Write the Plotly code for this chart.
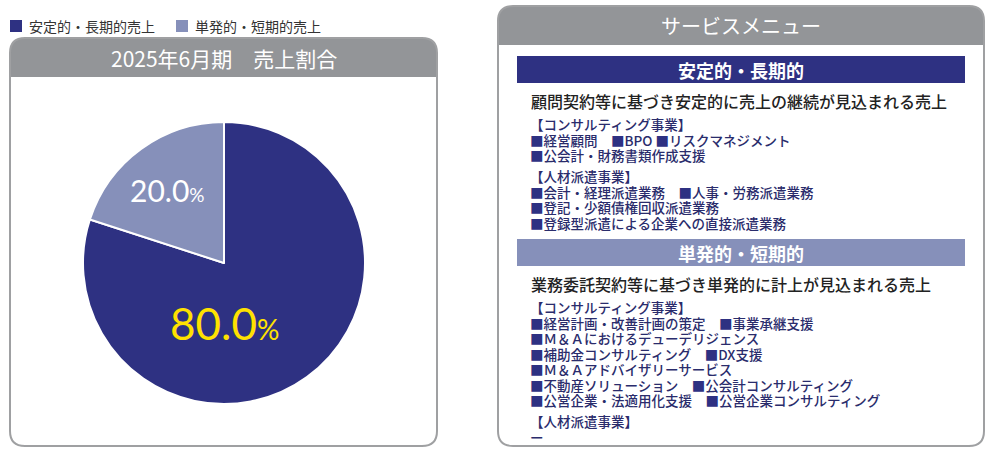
import plotly.graph_objects as go

# --- data ---
labels = ["安定的・長期的売上", "単発的・短期的売上"]
shares = [80.0, 20.0]
colors = ["#2E3182", "#8690BA"]
pie_title = "2025年6月期　売上割合"

menu_title = "サービスメニュー"
stable_head = "安定的・長期的"
stable_desc = "顧問契約等に基づき安定的に売上の継続が見込まれる売上"
stable_groups = [
    ["【コンサルティング事業】", "■経営顧問　■BPO ■リスクマネジメント", "■公会計・財務書類作成支援"],
    ["【人材派遣事業】", "■会計・経理派遣業務　■人事・労務派遣業務",
     "■登記・少額債権回収派遣業務", "■登録型派遣による企業への直接派遣業務"],
]
spot_head = "単発的・短期的"
spot_desc = "業務委託契約等に基づき単発的に計上が見込まれる売上"
spot_groups = [
    ["【コンサルティング事業】", "■経営計画・改善計画の策定　■事業承継支援",
     "■Ｍ＆Ａにおけるデューデリジェンス", "■補助金コンサルティング　■DX支援",
     "■Ｍ＆Ａアドバイザリーサービス", "■不動産ソリューション　■公会計コンサルティング",
     "■公営企業・法適用化支援　■公営企業コンサルティング"],
    ["【人材派遣事業】", "ー"],
]

W, H = 992, 459
JP = "Noto Sans CJK JP"
GRAY = "#939598"
BORDER = "#9FA0A2"
NAVY_TXT = "#2A2C6C"


def rounded_box(x0, y0, x1, y1, r):
    return (f"M {x0+r},{y0} L {x1-r},{y0} Q {x1},{y0} {x1},{y0+r} "
            f"L {x1},{y1-r} Q {x1},{y1} {x1-r},{y1} L {x0+r},{y1} "
            f"Q {x0},{y1} {x0},{y1-r} L {x0},{y0+r} Q {x0},{y0} {x0+r},{y0} Z")


def header_shape(x0, y0, x1, y1, r):
    return (f"M {x0},{y1} L {x0},{y0+r} Q {x0},{y0} {x0+r},{y0} "
            f"L {x1-r},{y0} Q {x1},{y0} {x1},{y0+r} L {x1},{y1} Z")


fig = go.Figure()

# pie centred at (224, 263), radius ~140
cx, cy, rad = 224, 263, 141
fig.add_trace(go.Pie(
    labels=labels, values=shares, sort=False, direction="clockwise", rotation=0,
    marker=dict(colors=colors, line=dict(color="white", width=2)),
    textinfo="none", hoverinfo="label+percent", showlegend=False,
    domain=dict(x=[(cx-rad)/W, (cx+rad)/W], y=[1-(cy+rad)/H, 1-(cy-rad)/H]),
))

shapes = []
ann = []

# left panel
shapes.append(dict(type="path", path=header_shape(10, 38, 437, 77, 15),
                   fillcolor=GRAY, line=dict(width=0), layer="below"))
shapes.append(dict(type="path", path=rounded_box(10, 38, 437, 446, 15),
                   line=dict(color=BORDER, width=2), layer="above"))
ann.append(dict(x=224, y=58, text=pie_title, font=dict(family=JP, size=21, color="white")))

# legend
lx = [10, 176]
for i, lab in enumerate(labels):
    shapes.append(dict(type="rect", x0=lx[i], x1=lx[i]+12, y0=20, y1=32,
                       fillcolor=colors[i], line=dict(width=0)))
    ann.append(dict(x=lx[i]+17, y=26, text=lab, xanchor="left",
                    font=dict(family=JP, size=14, color="#333333")))

# pie labels
ann.append(dict(x=224, y=323, text=f"{shares[0]:.1f}<span style='font-size:28px'>%</span>",
                font=dict(family="Lato", size=44, color="#FFE100")))
ann.append(dict(x=167, y=190, text=f"{shares[1]:.1f}<span style='font-size:19px'>%</span>",
                font=dict(family="Lato", size=30, color="white")))

# right panel
shapes.append(dict(type="path", path=header_shape(498, 6, 984, 45, 15),
                   fillcolor=GRAY, line=dict(width=0), layer="below"))
shapes.append(dict(type="path", path=rounded_box(498, 6, 984, 446, 15),
                   line=dict(color=BORDER, width=2), layer="above"))
ann.append(dict(x=741, y=25, text=menu_title, font=dict(family=JP, size=20, color="white")))


def section(head, desc, groups, bar_top, bar_color):
    shapes.append(dict(type="rect", x0=517, x1=965, y0=bar_top, y1=bar_top+27,
                       fillcolor=bar_color, line=dict(width=0), layer="below"))
    ann.append(dict(x=741, y=bar_top+13.5, text=f"<b>{head}</b>",
                    font=dict(family=JP, size=18, color="white")))
    ann.append(dict(x=529, y=bar_top+45, text=desc, xanchor="left",
                    font=dict(family=JP, size=16, color="#222222", weight=500)))
    y = bar_top + 68
    for g in groups:
        for line in g:
            txt = line.replace("■", "<span style='color:#2E3182'>■</span>")
            ann.append(dict(x=528, y=y, text=txt, xanchor="left",
                            font=dict(family=JP, size=13.5, color=NAVY_TXT, weight=500)))
            y += 15.5
        y += 5.5


section(stable_head, stable_desc, stable_groups, 56, "#2E3182")
section(spot_head, spot_desc, spot_groups, 239, "#8690BA")

for a in ann:
    a.setdefault("xref", "x")
    a.setdefault("yref", "y")
    a.setdefault("showarrow", False)
    a.setdefault("yanchor", "middle")
for s in shapes:
    s.setdefault("xref", "x")
    s.setdefault("yref", "y")

fig.update_layout(
    width=W, height=H, margin=dict(l=0, r=0, t=0, b=0),
    paper_bgcolor="white", plot_bgcolor="rgba(0,0,0,0)",
    xaxis=dict(range=[0, W], visible=False, fixedrange=True),
    yaxis=dict(range=[H, 0], visible=False, fixedrange=True),
    shapes=shapes, annotations=ann,
)

fig.write_html("out.html", config={"displayModeBar": False},
               post_script="document.body.style.margin='0';document.body.style.overflow='hidden';")
